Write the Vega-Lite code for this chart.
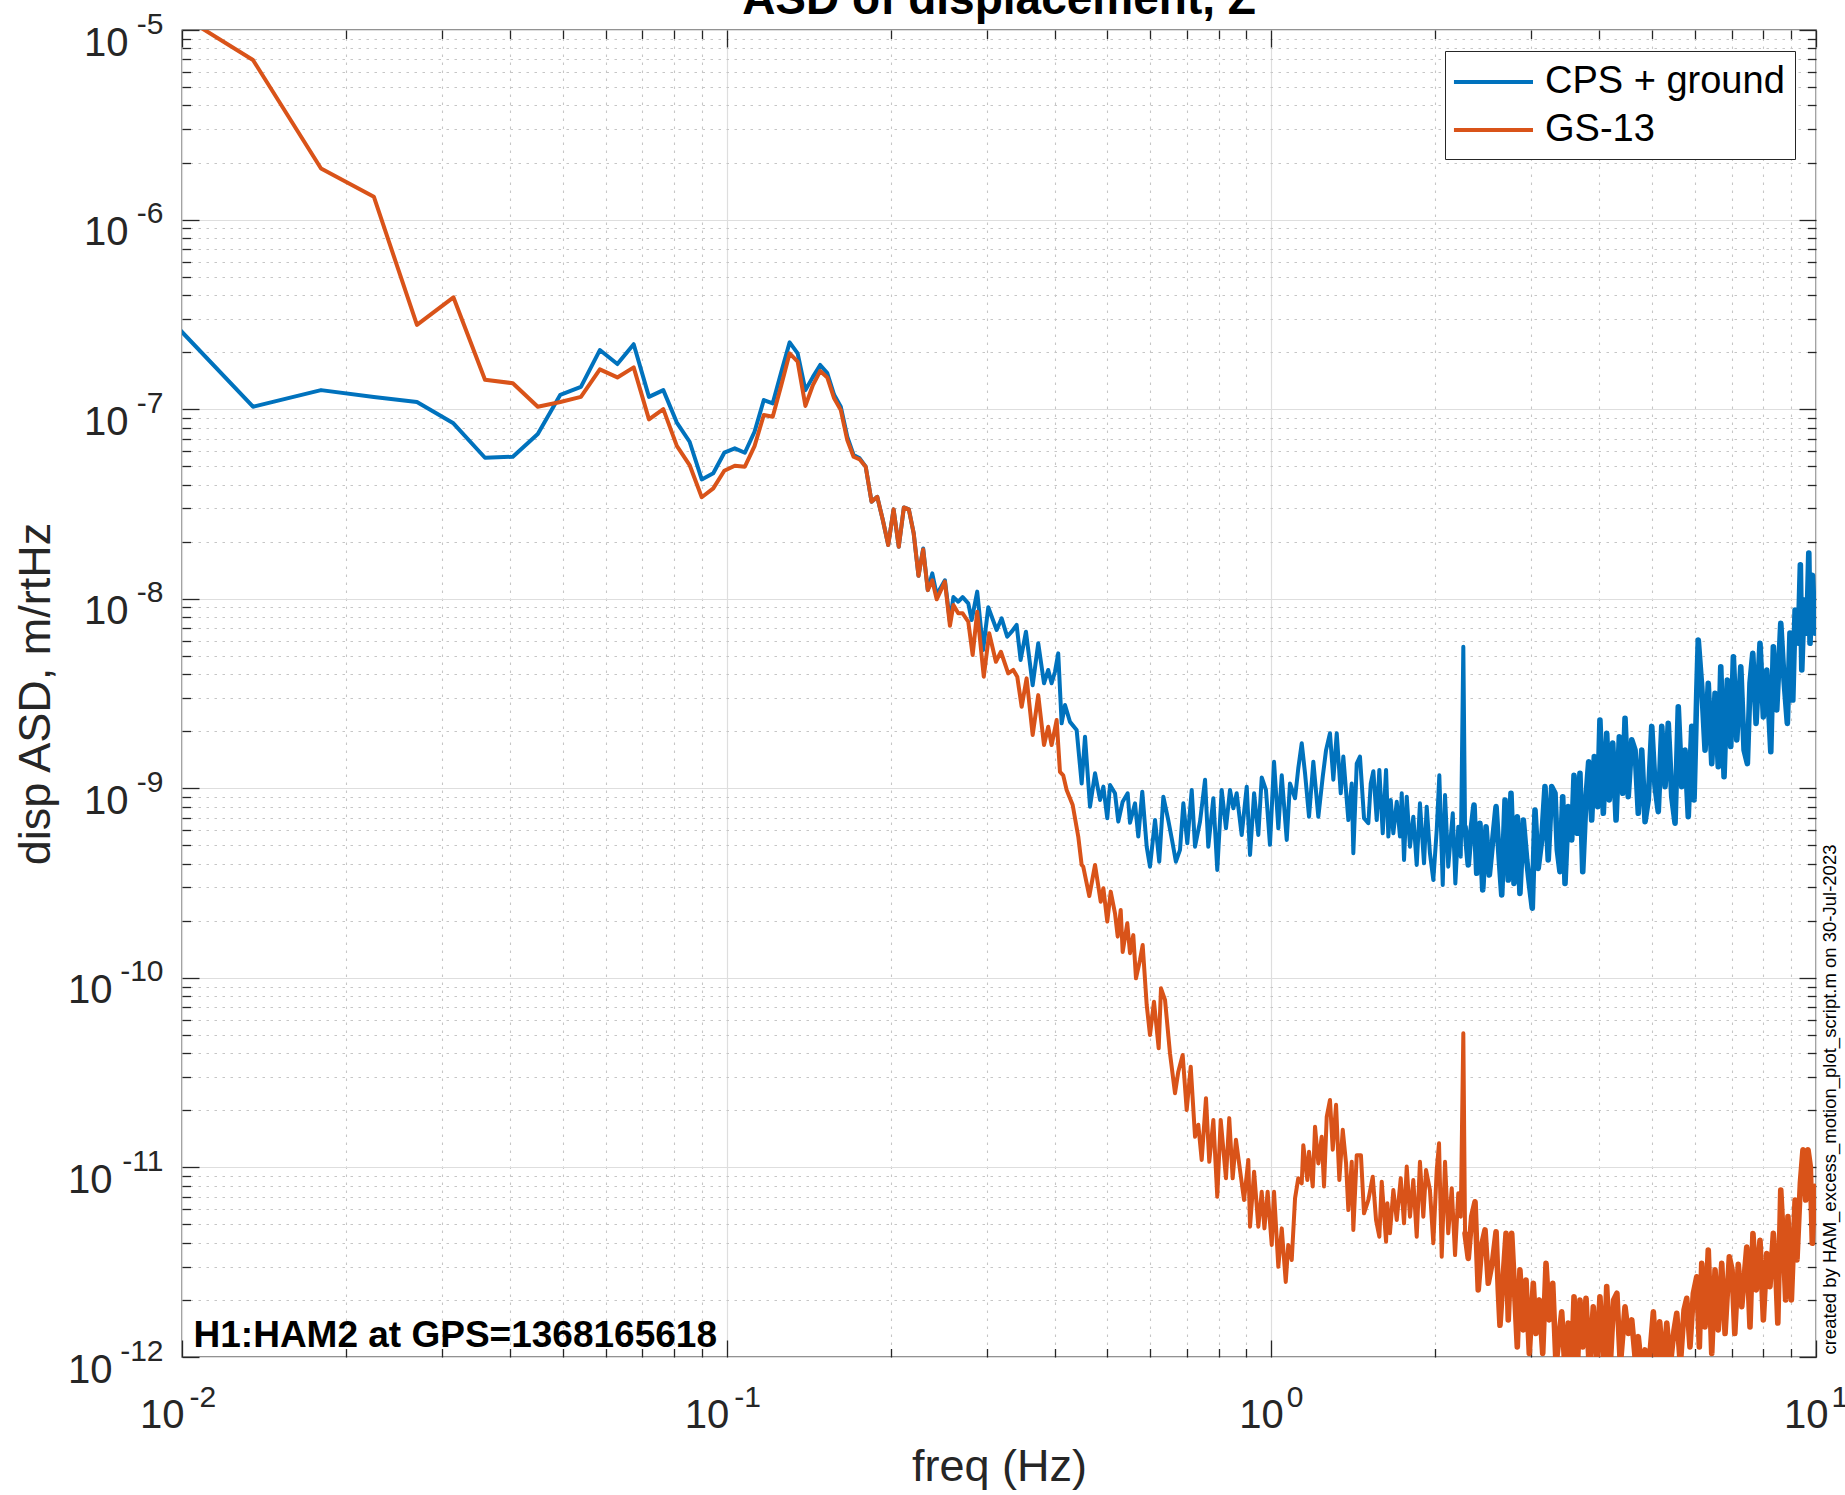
{
"$schema": "https://vega.github.io/schema/vega-lite/v6.json",
"width": 1634, "height": 1327,
"autosize": "none",
"padding": {"left": 182, "top": 30, "right": 29, "bottom": 138},
"background": "white",
"config": {
  "view": {"stroke": "#262626", "strokeWidth": 1.3},
  "axis": {"labelFont": "Liberation Sans", "titleFont": "Liberation Sans", "labelColor": "#262626", "titleColor": "#262626", "tickColor": "#262626", "tickWidth": 1.3, "domain": false, "grid": false, "labelFlush": false, "labelOverlap": false, "labelBound": false, "labelLimit": 0, "titleFontWeight": "normal"},
  "legend": {"title": null, "orient": "top-right", "offset": 21, "padding": 10, "fillColor": "#ffffff", "strokeColor": "#262626", "symbolType": "M-1.16,0H3.0", "symbolSize": 1444, "symbolStrokeWidth": 4, "symbolOpacity": 1, "labelFont": "Liberation Sans", "labelFontSize": 38, "labelColor": "#000000", "labelOffset": 48, "labelLimit": 0, "rowPadding": 8},
  "text": {"font": "Liberation Sans"}
},
"datasets": {
"cps": [
{"f":0.009,"v":3.51e-7},{"f":0.0135,"v":1.03e-7},{"f":0.018,"v":1.26e-7},{"f":0.0225,"v":1.16e-7},{"f":0.027,"v":1.09e-7},{"f":0.0315,"v":8.42e-8},{"f":0.036,"v":5.54e-8},{"f":0.0405,"v":5.61e-8},{"f":0.045,"v":7.39e-8},{"f":0.0495,"v":1.19e-7},{"f":0.054,"v":1.31e-7},{"f":0.0585,"v":2.05e-7},{"f":0.063,"v":1.73e-7},{"f":0.0675,"v":2.2e-7},{"f":0.072,"v":1.16e-7},{"f":0.0765,"v":1.26e-7},{"f":0.081,"v":8.5e-8},{"f":0.0855,"v":6.73e-8},{"f":0.09,"v":4.26e-8},{"f":0.0945,"v":4.59e-8},{"f":0.099,"v":5.89e-8},{"f":0.1035,"v":6.21e-8},{"f":0.108,"v":5.89e-8},{"f":0.1125,"v":7.6e-8},{"f":0.117,"v":1.117e-7},{"f":0.1215,"v":1.073e-7},{"f":0.126,"v":1.575e-7},{"f":0.1305,"v":2.25e-7},{"f":0.135,"v":1.97e-7},{"f":0.1395,"v":1.26e-7},{"f":0.144,"v":1.48e-7},{"f":0.1485,"v":1.71e-7},{"f":0.153,"v":1.55e-7},{"f":0.1575,"v":1.19e-7},{"f":0.162,"v":1.03e-7},{"f":0.1665,"v":7.15e-8},{"f":0.171,"v":5.73e-8},{"f":0.1755,"v":5.5e-8},{"f":0.18,"v":4.97e-8},{"f":0.1845,"v":3.25e-8},{"f":0.189,"v":3.45e-8},{"f":0.1935,"v":2.6e-8},{"f":0.198,"v":1.92e-8},{"f":0.2025,"v":2.96e-8},{"f":0.207,"v":1.88e-8},{"f":0.2115,"v":3.03e-8},{"f":0.216,"v":2.96e-8},{"f":0.2205,"v":2.21e-8},{"f":0.225,"v":1.32e-8},{"f":0.2295,"v":1.84e-8},{"f":0.234,"v":1.11e-8},{"f":0.2385,"v":1.36e-8},{"f":0.243,"v":1.05e-8},{"f":0.2516,"v":1.25e-8},{"f":0.257,"v":7.56e-9},{"f":0.2608,"v":1.02e-8},{"f":0.2662,"v":9.64e-9},{"f":0.2712,"v":1.02e-8},{"f":0.2777,"v":9.46e-9},{"f":0.2817,"v":7.72e-9},{"f":0.2884,"v":1.09e-8},{"f":0.2957,"v":5.36e-9},{"f":0.3022,"v":9.01e-9},{"f":0.3131,"v":6.84e-9},{"f":0.3198,"v":7.88e-9},{"f":0.3274,"v":6.3e-9},{"f":0.3336,"v":6.7e-9},{"f":0.3407,"v":7.27e-9},{"f":0.3465,"v":4.75e-9},{"f":0.3544,"v":6.7e-9},{"f":0.3646,"v":3.5e-9},{"f":0.3733,"v":5.82e-9},{"f":0.3825,"v":3.58e-9},{"f":0.3894,"v":4.21e-9},{"f":0.395,"v":3.58e-9},{"f":0.4007,"v":4.12e-9},{"f":0.4062,"v":5.15e-9},{"f":0.4121,"v":2.2e-9},{"f":0.418,"v":2.75e-9},{"f":0.4269,"v":2.24e-9},{"f":0.4391,"v":2.03e-9},{"f":0.4485,"v":1.06e-9},{"f":0.4549,"v":1.87e-9},{"f":0.4646,"v":8.0e-10},{"f":0.4746,"v":1.2e-9},{"f":0.4847,"v":8.68e-10},{"f":0.4916,"v":1.02e-9},{"f":0.4998,"v":6.95e-10},{"f":0.5056,"v":1.04e-9},{"f":0.5164,"v":9.41e-10},{"f":0.5236,"v":6.67e-10},{"f":0.5334,"v":8.5e-10},{"f":0.5448,"v":9.41e-10},{"f":0.5502,"v":6.58e-10},{"f":0.562,"v":8.33e-10},{"f":0.5698,"v":5.56e-10},{"f":0.5795,"v":9.59e-10},{"f":0.5904,"v":4.92e-10},{"f":0.5987,"v":3.86e-10},{"f":0.6116,"v":6.8e-10},{"f":0.6226,"v":4.1e-10},{"f":0.6335,"v":9.03e-10},{"f":0.6468,"v":6.8e-10},{"f":0.6571,"v":5.34e-10},{"f":0.668,"v":4.1e-10},{"f":0.6797,"v":4.73e-10},{"f":0.6894,"v":8.33e-10},{"f":0.701,"v":5.13e-10},{"f":0.7142,"v":9.8e-10},{"f":0.7243,"v":4.92e-10},{"f":0.7397,"v":6.67e-10},{"f":0.7556,"v":1.11e-9},{"f":0.766,"v":4.92e-10},{"f":0.7826,"v":8.86e-10},{"f":0.7957,"v":3.71e-10},{"f":0.8107,"v":9.8e-10},{"f":0.8255,"v":6.15e-10},{"f":0.8396,"v":9.8e-10},{"f":0.8518,"v":7.84e-10},{"f":0.8637,"v":9.41e-10},{"f":0.8822,"v":5.67e-10},{"f":0.9012,"v":1.02e-9},{"f":0.9139,"v":4.45e-10},{"f":0.9297,"v":9.41e-10},{"f":0.9465,"v":5.67e-10},{"f":0.9602,"v":1.14e-9},{"f":0.9775,"v":9.8e-10},{"f":0.9942,"v":5.03e-10},{"f":1.0115,"v":1.38e-9},{"f":1.03,"v":6.15e-10},{"f":1.045,"v":1.17e-9},{"f":1.0673,"v":5.34e-10},{"f":1.082,"v":1.06e-9},{"f":1.1054,"v":8.86e-10},{"f":1.1205,"v":1.27e-9},{"f":1.1371,"v":1.73e-9},{"f":1.1531,"v":1.2e-9},{"f":1.1728,"v":7.08e-10},{"f":1.1943,"v":1.38e-9},{"f":1.2198,"v":7.08e-10},{"f":1.2427,"v":1.15e-9},{"f":1.2603,"v":1.59e-9},{"f":1.2814,"v":1.95e-9},{"f":1.2997,"v":1.11e-9},{"f":1.3185,"v":1.95e-9},{"f":1.3411,"v":9.41e-10},{"f":1.3557,"v":1.47e-9},{"f":1.3848,"v":6.8e-10},{"f":1.4048,"v":1.06e-9},{"f":1.4143,"v":4.54e-10},{"f":1.4348,"v":1.35e-9},{"f":1.4546,"v":1.47e-9},{"f":1.4797,"v":6.95e-10},{"f":1.5069,"v":6.54e-10},{"f":1.5224,"v":1.06e-9},{"f":1.5392,"v":1.23e-9},{"f":1.5615,"v":6.8e-10},{"f":1.5787,"v":1.25e-9},{"f":1.6015,"v":5.79e-10},{"f":1.6242,"v":1.25e-9},{"f":1.64,"v":5.56e-10},{"f":1.6567,"v":8.68e-10},{"f":1.675,"v":5.79e-10},{"f":1.6993,"v":8.5e-10},{"f":1.7227,"v":5.56e-10},{"f":1.7354,"v":9.41e-10},{"f":1.7524,"v":4.19e-10},{"f":1.7725,"v":9.03e-10},{"f":1.797,"v":4.92e-10},{"f":1.8226,"v":7.08e-10},{"f":1.849,"v":3.94e-10},{"f":1.8744,"v":8.33e-10},{"f":1.9069,"v":4.02e-10},{"f":1.9287,"v":8.0e-10},{"f":1.9553,"v":4.54e-10},{"f":1.9834,"v":3.28e-10},{"f":2.0122,"v":6.03e-10},{"f":2.0344,"v":1.17e-9},{"f":2.0639,"v":3.09e-10},{"f":2.084,"v":9.22e-10},{"f":2.1125,"v":3.86e-10},{"f":2.1533,"v":7.38e-10},{"f":2.177,"v":3.15e-10},{"f":2.204,"v":6.27e-10},{"f":2.2273,"v":4.36e-10},{"f":2.2516,"v":5.58e-9},{"f":2.268,"v":6.27e-10},{"f":2.299,"v":3.94e-10},{"f":2.3232,"v":5.79e-10},{"f":2.3558,"v":8.16e-10},{"f":2.3828,"v":3.56e-10},{"f":2.4156,"v":6.54e-10},{"f":2.4442,"v":2.91e-10},{"f":2.4787,"v":6.27e-10},{"f":2.5132,"v":3.49e-10},{"f":2.5498,"v":5.34e-10},{"f":2.5858,"v":8.0e-10},{"f":2.6218,"v":4.19e-10},{"f":2.6485,"v":2.74e-10},{"f":2.6858,"v":8.68e-10},{"f":2.7225,"v":3.28e-10},{"f":2.7543,"v":9.41e-10},{"f":2.7895,"v":3.15e-10},{"f":2.8287,"v":7.08e-10},{"f":2.8604,"v":2.79e-10},{"f":2.9015,"v":6.8e-10},{"f":2.9435,"v":4.19e-10},{"f":2.976,"v":3.15e-10},{"f":3.0138,"v":2.33e-10},{"f":3.0485,"v":7.68e-10},{"f":3.09,"v":3.78e-10},{"f":3.136,"v":5.34e-10},{"f":3.18,"v":1.02e-9},{"f":3.2237,"v":4.19e-10},{"f":3.2717,"v":1.02e-9},{"f":3.3177,"v":9.41e-10},{"f":3.35,"v":4.73e-10},{"f":3.3876,"v":3.63e-10},{"f":3.4274,"v":9.03e-10},{"f":3.4608,"v":3.15e-10},{"f":3.5082,"v":8.0e-10},{"f":3.5604,"v":5.34e-10},{"f":3.5953,"v":1.17e-9},{"f":3.6458,"v":5.79e-10},{"f":3.6866,"v":1.2e-9},{"f":3.73,"v":3.63e-10},{"f":3.7827,"v":9.03e-10},{"f":3.825,"v":1.38e-9},{"f":3.874,"v":6.8e-10},{"f":3.917,"v":1.47e-9},{"f":3.974,"v":8.0e-10},{"f":4.0115,"v":2.29e-9},{"f":4.069,"v":7.38e-10},{"f":4.128,"v":1.95e-9},{"f":4.1735,"v":8.68e-10},{"f":4.2346,"v":1.73e-9},{"f":4.2944,"v":6.8e-10},{"f":4.3543,"v":1.87e-9},{"f":4.4173,"v":9.41e-10},{"f":4.4604,"v":2.34e-9},{"f":4.5214,"v":9.03e-10},{"f":4.589,"v":1.8e-9},{"f":4.654,"v":1.59e-9},{"f":4.7175,"v":7.38e-10},{"f":4.787,"v":1.59e-9},{"f":4.8546,"v":6.67e-10},{"f":4.921,"v":8.68e-10},{"f":4.994,"v":2.12e-9},{"f":5.064,"v":1.02e-9},{"f":5.1335,"v":7.53e-10},{"f":5.2095,"v":2.12e-9},{"f":5.283,"v":1.02e-9},{"f":5.355,"v":2.2e-9},{"f":5.4344,"v":9.03e-10},{"f":5.511,"v":6.54e-10},{"f":5.5864,"v":2.69e-9},{"f":5.669,"v":1.02e-9},{"f":5.749,"v":1.59e-9},{"f":5.8275,"v":7.08e-10},{"f":5.914,"v":2.12e-9},{"f":5.972,"v":8.68e-10},{"f":6.04,"v":3.17e-9},{"f":6.079,"v":6.06e-9},{"f":6.169,"v":3.43e-9},{"f":6.256,"v":1.59e-9},{"f":6.3416,"v":3.58e-9},{"f":6.4356,"v":1.35e-9},{"f":6.526,"v":3.17e-9},{"f":6.6155,"v":1.3e-9},{"f":6.6855,"v":4.38e-9},{"f":6.779,"v":1.15e-9},{"f":6.874,"v":3.72e-9},{"f":6.974,"v":1.66e-9},{"f":7.0516,"v":4.94e-9},{"f":7.1538,"v":1.8e-9},{"f":7.276,"v":4.38e-9},{"f":7.378,"v":1.59e-9},{"f":7.4815,"v":1.35e-9},{"f":7.565,"v":3.58e-9},{"f":7.654,"v":5.15e-9},{"f":7.762,"v":2.2e-9},{"f":7.892,"v":5.82e-9},{"f":8.005,"v":2.38e-9},{"f":8.121,"v":4.21e-9},{"f":8.26,"v":1.56e-9},{"f":8.35,"v":5.58e-9},{"f":8.471,"v":2.59e-9},{"f":8.616,"v":7.42e-9},{"f":8.736,"v":3.72e-9},{"f":8.859,"v":2.2e-9},{"f":8.958,"v":6.58e-9},{"f":9.066,"v":2.92e-9},{"f":9.154,"v":8.72e-9},{"f":9.279,"v":5.82e-9},{"f":9.36,"v":1.51e-8},{"f":9.417,"v":4.21e-9},{"f":9.509,"v":9.84e-9},{"f":9.618,"v":6.58e-9},{"f":9.7,"v":1.74e-8},{"f":9.75,"v":5.82e-9},{"f":9.85,"v":1.33e-8},{"f":9.96,"v":6.58e-9},{"f":10.0,"v":8.0e-9}
],
"gs": [
{"f":0.009,"v":1.43e-5},{"f":0.0135,"v":6.95e-6},{"f":0.018,"v":1.86e-6},{"f":0.0225,"v":1.32e-6},{"f":0.027,"v":2.78e-7},{"f":0.0315,"v":3.89e-7},{"f":0.036,"v":1.43e-7},{"f":0.0405,"v":1.37e-7},{"f":0.045,"v":1.03e-7},{"f":0.0495,"v":1.09e-7},{"f":0.054,"v":1.16e-7},{"f":0.0585,"v":1.62e-7},{"f":0.063,"v":1.47e-7},{"f":0.0675,"v":1.66e-7},{"f":0.072,"v":8.83e-8},{"f":0.0765,"v":1.0e-7},{"f":0.081,"v":6.4e-8},{"f":0.0855,"v":5.07e-8},{"f":0.09,"v":3.43e-8},{"f":0.0945,"v":3.82e-8},{"f":0.099,"v":4.73e-8},{"f":0.1035,"v":5.03e-8},{"f":0.108,"v":4.97e-8},{"f":0.1125,"v":6.38e-8},{"f":0.117,"v":9.31e-8},{"f":0.1215,"v":9.12e-8},{"f":0.126,"v":1.34e-7},{"f":0.1305,"v":1.97e-7},{"f":0.135,"v":1.78e-7},{"f":0.1395,"v":1.04e-7},{"f":0.144,"v":1.34e-7},{"f":0.1485,"v":1.59e-7},{"f":0.153,"v":1.47e-7},{"f":0.1575,"v":1.14e-7},{"f":0.162,"v":9.9e-8},{"f":0.1665,"v":6.87e-8},{"f":0.171,"v":5.61e-8},{"f":0.1755,"v":5.43e-8},{"f":0.18,"v":4.97e-8},{"f":0.1845,"v":3.25e-8},{"f":0.189,"v":3.45e-8},{"f":0.1935,"v":2.6e-8},{"f":0.198,"v":1.92e-8},{"f":0.2025,"v":2.96e-8},{"f":0.207,"v":1.88e-8},{"f":0.2115,"v":3.03e-8},{"f":0.216,"v":2.96e-8},{"f":0.2205,"v":2.21e-8},{"f":0.225,"v":1.32e-8},{"f":0.2295,"v":1.82e-8},{"f":0.234,"v":1.11e-8},{"f":0.2385,"v":1.25e-8},{"f":0.243,"v":9.93e-9},{"f":0.2516,"v":1.23e-8},{"f":0.257,"v":7.2e-9},{"f":0.2608,"v":9.26e-9},{"f":0.2662,"v":8.37e-9},{"f":0.2712,"v":8.37e-9},{"f":0.2777,"v":7.56e-9},{"f":0.2829,"v":5.05e-9},{"f":0.2884,"v":8.54e-9},{"f":0.2965,"v":3.88e-9},{"f":0.3034,"v":6.58e-9},{"f":0.3121,"v":4.65e-9},{"f":0.3188,"v":5.25e-9},{"f":0.3288,"v":4.04e-9},{"f":0.3359,"v":4.21e-9},{"f":0.3416,"v":3.88e-9},{"f":0.348,"v":2.69e-9},{"f":0.3554,"v":3.8e-9},{"f":0.3646,"v":1.91e-9},{"f":0.3733,"v":3.1e-9},{"f":0.3825,"v":1.69e-9},{"f":0.3894,"v":2.11e-9},{"f":0.395,"v":1.69e-9},{"f":0.4035,"v":2.29e-9},{"f":0.4092,"v":1.22e-9},{"f":0.4149,"v":1.17e-9},{"f":0.4209,"v":9.8e-10},{"f":0.4318,"v":8.16e-10},{"f":0.4421,"v":5.56e-10},{"f":0.4485,"v":3.94e-10},{"f":0.4515,"v":3.86e-10},{"f":0.4632,"v":2.7e-10},{"f":0.4746,"v":3.94e-10},{"f":0.4861,"v":2.52e-10},{"f":0.4916,"v":2.97e-10},{"f":0.4998,"v":1.98e-10},{"f":0.5071,"v":2.85e-10},{"f":0.5164,"v":2.19e-10},{"f":0.5223,"v":1.65e-10},{"f":0.529,"v":2.28e-10},{"f":0.5334,"v":1.37e-10},{"f":0.5439,"v":1.94e-10},{"f":0.5502,"v":1.35e-10},{"f":0.5579,"v":1.68e-10},{"f":0.5643,"v":9.95e-11},{"f":0.5739,"v":1.24e-10},{"f":0.5805,"v":1.49e-10},{"f":0.5904,"v":7.21e-11},{"f":0.5987,"v":5.0e-11},{"f":0.6089,"v":7.49e-11},{"f":0.6211,"v":4.25e-11},{"f":0.6272,"v":8.81e-11},{"f":0.638,"v":7.65e-11},{"f":0.6515,"v":4.0e-11},{"f":0.6655,"v":2.46e-11},{"f":0.6748,"v":3.2e-11},{"f":0.6874,"v":3.92e-11},{"f":0.6992,"v":2.01e-11},{"f":0.7112,"v":3.4e-11},{"f":0.7243,"v":1.45e-11},{"f":0.7344,"v":1.68e-11},{"f":0.745,"v":1.095e-11},{"f":0.7586,"v":2.32e-11},{"f":0.7692,"v":1.07e-11},{"f":0.7826,"v":1.78e-11},{"f":0.7957,"v":7.01e-12},{"f":0.8073,"v":1.78e-11},{"f":0.8255,"v":8.76e-12},{"f":0.837,"v":1.82e-11},{"f":0.8492,"v":8.76e-12},{"f":0.8611,"v":1.4e-11},{"f":0.8759,"v":9.69e-12},{"f":0.891,"v":6.73e-12},{"f":0.9073,"v":1.095e-11},{"f":0.9139,"v":4.87e-12},{"f":0.9297,"v":9.49e-12},{"f":0.9465,"v":4.87e-12},{"f":0.9602,"v":7.44e-12},{"f":0.9712,"v":4.77e-12},{"f":0.9845,"v":7.44e-12},{"f":1.0017,"v":3.9e-12},{"f":1.0115,"v":7.44e-12},{"f":1.03,"v":2.99e-12},{"f":1.045,"v":4.77e-12},{"f":1.0628,"v":2.49e-12},{"f":1.0742,"v":3.9e-12},{"f":1.0901,"v":3.25e-12},{"f":1.1054,"v":6.87e-12},{"f":1.1205,"v":8.76e-12},{"f":1.1371,"v":8.25e-12},{"f":1.1448,"v":1.31e-11},{"f":1.1644,"v":8.58e-12},{"f":1.1728,"v":1.21e-11},{"f":1.1913,"v":7.94e-12},{"f":1.2029,"v":1.64e-11},{"f":1.2198,"v":1.05e-11},{"f":1.2374,"v":1.45e-11},{"f":1.2495,"v":7.94e-12},{"f":1.2638,"v":1.85e-11},{"f":1.2814,"v":2.27e-11},{"f":1.2964,"v":1.24e-11},{"f":1.3147,"v":2.14e-11},{"f":1.333,"v":8.58e-12},{"f":1.3524,"v":1.58e-11},{"f":1.3715,"v":1.05e-11},{"f":1.3848,"v":5.96e-12},{"f":1.4048,"v":1.07e-11},{"f":1.4143,"v":4.68e-12},{"f":1.4348,"v":1.16e-11},{"f":1.4605,"v":1.16e-11},{"f":1.4797,"v":5.73e-12},{"f":1.5069,"v":6.73e-12},{"f":1.5353,"v":8.93e-12},{"f":1.557,"v":5.28e-12},{"f":1.5787,"v":4.31e-12},{"f":1.5947,"v":8.41e-12},{"f":1.6242,"v":4.06e-12},{"f":1.633,"v":6.47e-12},{"f":1.651,"v":4.49e-12},{"f":1.675,"v":7.6e-12},{"f":1.6993,"v":5.28e-12},{"f":1.7282,"v":8.76e-12},{"f":1.7524,"v":5.07e-12},{"f":1.7725,"v":1.01e-11},{"f":1.797,"v":5.5e-12},{"f":1.8226,"v":8.58e-12},{"f":1.849,"v":4.31e-12},{"f":1.8744,"v":1.07e-11},{"f":1.9012,"v":5.5e-12},{"f":1.9233,"v":9.69e-12},{"f":1.9553,"v":7.6e-12},{"f":1.9834,"v":3.98e-12},{"f":2.0122,"v":9.69e-12},{"f":2.0318,"v":1.34e-11},{"f":2.0551,"v":3.38e-12},{"f":2.084,"v":1.07e-11},{"f":2.1125,"v":4.49e-12},{"f":2.144,"v":7.76e-12},{"f":2.1742,"v":3.45e-12},{"f":2.204,"v":7.3e-12},{"f":2.2273,"v":5.5e-12},{"f":2.2516,"v":5.1e-11},{"f":2.268,"v":4.49e-12},{"f":2.299,"v":3.31e-12},{"f":2.333,"v":5.5e-12},{"f":2.3658,"v":6.59e-12},{"f":2.398,"v":2.26e-12},{"f":2.4337,"v":3.9e-12},{"f":2.468,"v":4.68e-12},{"f":2.5018,"v":2.45e-12},{"f":2.5498,"v":3.25e-12},{"f":2.5858,"v":4.58e-12},{"f":2.61,"v":2.26e-12},{"f":2.6289,"v":1.47e-12},{"f":2.6599,"v":2.45e-12},{"f":2.6974,"v":4.49e-12},{"f":2.7225,"v":1.57e-12},{"f":2.7625,"v":4.49e-12},{"f":2.8014,"v":2.0e-12},{"f":2.8287,"v":1.13e-12},{"f":2.8604,"v":2.88e-12},{"f":2.9015,"v":1.39e-12},{"f":2.935,"v":2.55e-12},{"f":2.976,"v":1.045e-12},{"f":3.0266,"v":2.45e-12},{"f":3.0617,"v":1.33e-12},{"f":3.1044,"v":2.0e-12},{"f":3.1495,"v":1.045e-12},{"f":3.194,"v":3.12e-12},{"f":3.2384,"v":1.57e-12},{"f":3.2857,"v":2.45e-12},{"f":3.332,"v":9.07e-13},{"f":3.4128,"v":1.73e-12},{"f":3.4608,"v":8.5e-13},{"f":3.5082,"v":1.51e-12},{"f":3.5604,"v":9.07e-13},{"f":3.5953,"v":2.08e-12},{"f":3.6458,"v":8.5e-13},{"f":3.6866,"v":2.0e-12},{"f":3.73,"v":1.13e-12},{"f":3.7827,"v":2.04e-12},{"f":3.8353,"v":8.5e-13},{"f":3.9005,"v":1.84e-12},{"f":3.957,"v":9.07e-13},{"f":4.0115,"v":2.08e-12},{"f":4.081,"v":8.5e-13},{"f":4.128,"v":2.35e-12},{"f":4.191,"v":9.07e-13},{"f":4.2506,"v":2.0e-12},{"f":4.31,"v":2.17e-12},{"f":4.373,"v":9.07e-13},{"f":4.4604,"v":1.84e-12},{"f":4.5214,"v":1.33e-12},{"f":4.589,"v":1.57e-12},{"f":4.654,"v":1.0e-12},{"f":4.7175,"v":1.28e-12},{"f":4.787,"v":8.5e-13},{"f":4.8546,"v":1.09e-12},{"f":4.921,"v":8.0e-13},{"f":5.028,"v":1.73e-12},{"f":5.1006,"v":8.5e-13},{"f":5.1642,"v":1.535e-12},{"f":5.245,"v":8.5e-13},{"f":5.321,"v":1.51e-12},{"f":5.402,"v":9.07e-13},{"f":5.4876,"v":1.39e-12},{"f":5.5506,"v":1.7e-12},{"f":5.635,"v":9.07e-13},{"f":5.7245,"v":1.77e-12},{"f":5.79,"v":2.04e-12},{"f":5.87,"v":1.13e-12},{"f":5.954,"v":2.17e-12},{"f":6.04,"v":2.65e-12},{"f":6.107,"v":1.13e-12},{"f":6.169,"v":3.12e-12},{"f":6.256,"v":1.44e-12},{"f":6.3416,"v":3.67e-12},{"f":6.4356,"v":1.045e-12},{"f":6.526,"v":2.88e-12},{"f":6.6155,"v":1.39e-12},{"f":6.713,"v":3.12e-12},{"f":6.808,"v":1.33e-12},{"f":6.9325,"v":3.38e-12},{"f":7.013,"v":2.88e-12},{"f":7.094,"v":1.33e-12},{"f":7.2,"v":3.08e-12},{"f":7.306,"v":1.84e-12},{"f":7.409,"v":2.98e-12},{"f":7.4625,"v":3.8e-12},{"f":7.565,"v":1.44e-12},{"f":7.66,"v":4.48e-12},{"f":7.771,"v":2.26e-12},{"f":7.892,"v":4.13e-12},{"f":8.005,"v":1.57e-12},{"f":8.121,"v":3.51e-12},{"f":8.231,"v":2.35e-12},{"f":8.35,"v":4.49e-12},{"f":8.432,"v":2.98e-12},{"f":8.509,"v":1.51e-12},{"f":8.616,"v":7.6e-12},{"f":8.696,"v":4.49e-12},{"f":8.796,"v":2.0e-12},{"f":8.882,"v":5.5e-12},{"f":9.0117,"v":2.0e-12},{"f":9.154,"v":6.73e-12},{"f":9.228,"v":3.25e-12},{"f":9.36,"v":8.25e-12},{"f":9.465,"v":1.24e-11},{"f":9.574,"v":6.73e-12},{"f":9.667,"v":1.24e-11},{"f":9.763,"v":1.01e-11},{"f":9.845,"v":3.98e-12},{"f":9.942,"v":7.94e-12},{"f":10.0,"v":6.5e-12}
],
"anchor": [{"f": 1, "v": 1e-8}]
},
"layer": [
{
  "data": {"name": "cps"},
  "transform": [{"filter": "datum.f <= 2.268"}],
  "mark": {"type": "line", "clip": true, "strokeWidth": 4, "strokeJoin": "round", "strokeCap": "round"},
  "encoding": {
    "x": {"field": "f", "type": "quantitative", "scale": {"type": "log", "domain": [0.01, 10], "nice": false},
      "axis": {"orient": "bottom", "values": [0.01, 0.1, 1, 10], "grid": true, "gridColor": "#dedede", "gridWidth": 1.2, "ticks": true, "tickSize": -17, "labels": false, "title": null}},
    "y": {"field": "v", "type": "quantitative", "scale": {"type": "log", "domain": [1e-12, 1e-5], "nice": false},
      "axis": {"orient": "left", "values": [1e-12, 1e-11, 1e-10, 1e-9, 1e-8, 1e-7, 1e-6, 1e-5], "grid": true, "gridColor": "#dedede", "gridWidth": 1.2, "ticks": true, "tickSize": -17, "labels": false, "title": null}},
    "color": {"datum": "CPS + ground", "type": "nominal", "scale": {"domain": ["CPS + ground", "GS-13"], "range": ["#0072BD", "#D95319"]}}
  }
},
{
  "data": {"name": "cps"},
  "transform": [{"filter": "datum.f >= 2.268"}],
  "mark": {"type": "line", "clip": true, "strokeWidth": 5.6, "strokeJoin": "round", "strokeCap": "round"},
  "encoding": {
    "x": {"field": "f", "type": "quantitative", "scale": {"type": "log", "domain": [0.01, 10], "nice": false}, "axis": null},
    "y": {"field": "v", "type": "quantitative", "scale": {"type": "log", "domain": [1e-12, 1e-5], "nice": false}, "axis": null},
    "color": {"datum": "CPS + ground", "type": "nominal", "scale": {"domain": ["CPS + ground", "GS-13"], "range": ["#0072BD", "#D95319"]}}
  }
},
{
  "data": {"name": "gs"},
  "transform": [{"filter": "datum.f <= 2.268"}],
  "mark": {"type": "line", "clip": true, "strokeWidth": 4, "strokeJoin": "round", "strokeCap": "round"},
  "encoding": {
    "x": {"field": "f", "type": "quantitative", "scale": {"type": "log", "domain": [0.01, 10], "nice": false},
      "axis": {"orient": "bottom", "values": [0.02,0.03,0.04,0.05,0.06,0.07,0.08,0.09,0.2,0.3,0.4,0.5,0.6,0.7,0.8,0.9,2,3,4,5,6,7,8,9], "grid": true, "gridColor": "#c6c6c6", "gridDash": [2.5, 5.5], "gridWidth": 1.1, "ticks": true, "tickSize": -8.5, "labels": false, "title": null}},
    "y": {"field": "v", "type": "quantitative", "scale": {"type": "log", "domain": [1e-12, 1e-5], "nice": false},
      "axis": {"orient": "left", "values": [2e-12,3e-12,4e-12,5e-12,6e-12,7e-12,8e-12,9e-12,2e-11,3e-11,4e-11,5e-11,6e-11,7e-11,8e-11,9e-11,2e-10,3e-10,4e-10,5e-10,6e-10,7e-10,8e-10,9e-10,2e-9,3e-9,4e-9,5e-9,6e-9,7e-9,8e-9,9e-9,2e-8,3e-8,4e-8,5e-8,6e-8,7e-8,8e-8,9e-8,2e-7,3e-7,4e-7,5e-7,6e-7,7e-7,8e-7,9e-7,2e-6,3e-6,4e-6,5e-6,6e-6,7e-6,8e-6,9e-6], "grid": true, "gridColor": "#c6c6c6", "gridDash": [2.5, 5.5], "gridWidth": 1.1, "ticks": true, "tickSize": -8.5, "labels": false, "title": null}},
    "color": {"datum": "GS-13", "type": "nominal", "scale": {"domain": ["CPS + ground", "GS-13"], "range": ["#0072BD", "#D95319"]}}
  }
},
{
  "data": {"name": "gs"},
  "transform": [{"filter": "datum.f >= 2.268"}],
  "mark": {"type": "line", "clip": true, "strokeWidth": 5.6, "strokeJoin": "round", "strokeCap": "round"},
  "encoding": {
    "x": {"field": "f", "type": "quantitative", "scale": {"type": "log", "domain": [0.01, 10], "nice": false}, "axis": null},
    "y": {"field": "v", "type": "quantitative", "scale": {"type": "log", "domain": [1e-12, 1e-5], "nice": false}, "axis": null},
    "color": {"datum": "GS-13", "type": "nominal", "scale": {"domain": ["CPS + ground", "GS-13"], "range": ["#0072BD", "#D95319"]}}
  }
},
{
  "data": {"name": "anchor"},
  "mark": {"type": "point", "opacity": 0},
  "encoding": {
    "x": {"field": "f", "type": "quantitative", "scale": {"type": "log", "domain": [0.01, 10], "nice": false},
      "axis": {"orient": "bottom", "values": [0.01, 0.1], "labelExpr": "'10'", "labelFontSize": 40, "labelAlign": "right", "labelBaseline": "alphabetic", "labelPadding": 70, "labelOffset": 2, "ticks": false, "tickSize": 0,
        "title": "freq (Hz)", "titleFontSize": 45, "titleBaseline": "alphabetic", "titleX": 817, "titleY": 123}},
    "y": {"field": "v", "type": "quantitative", "scale": {"type": "log", "domain": [1e-12, 1e-5], "nice": false},
      "axis": {"orient": "left", "values": [1e-9, 1e-8, 1e-7, 1e-6, 1e-5], "labelExpr": "'10'", "labelFontSize": 40, "labelAlign": "right", "labelBaseline": "alphabetic", "labelPadding": 54, "labelOffset": 25, "ticks": false, "tickSize": 0,
        "title": "disp ASD, m/rtHz", "titleFontSize": 45, "titleBaseline": "alphabetic", "titleAngle": 270, "titleX": -133, "titleY": 663.5}}
  }
},
{
  "data": {"name": "anchor"},
  "mark": {"type": "point", "opacity": 0},
  "encoding": {
    "x": {"field": "f", "type": "quantitative", "scale": {"type": "log", "domain": [0.01, 10], "nice": false},
      "axis": {"orient": "bottom", "values": [1, 10], "labelExpr": "'10'", "labelFontSize": 40, "labelAlign": "right", "labelBaseline": "alphabetic", "labelPadding": 70, "labelOffset": 12, "ticks": false, "tickSize": 0, "title": null}},
    "y": {"field": "v", "type": "quantitative", "scale": {"type": "log", "domain": [1e-12, 1e-5], "nice": false},
      "axis": {"orient": "left", "values": [1e-12, 1e-11, 1e-10], "labelExpr": "'10'", "labelFontSize": 40, "labelAlign": "right", "labelBaseline": "alphabetic", "labelPadding": 70, "labelOffset": 25, "ticks": false, "tickSize": 0, "title": null}}
  }
},
{
  "data": {"name": "anchor"},
  "mark": {"type": "point", "opacity": 0},
  "encoding": {
    "x": {"field": "f", "type": "quantitative", "scale": {"type": "log", "domain": [0.01, 10], "nice": false},
      "axis": {"orient": "bottom", "values": [0.01, 0.1], "labelExpr": "datum.value < 0.05 ? '-2' : '-1'", "labelFontSize": 30, "labelAlign": "left", "labelBaseline": "alphabetic", "labelPadding": 49, "labelOffset": 7, "ticks": false, "tickSize": 0, "title": null}},
    "y": {"field": "v", "type": "quantitative", "scale": {"type": "log", "domain": [1e-12, 1e-5], "nice": false},
      "axis": {"orient": "left", "values": [1e-12, 1e-11, 1e-10, 1e-9, 1e-8, 1e-7, 1e-6, 1e-5], "labelExpr": "'-' + format(round(-log(datum.value)/LN10), 'd')", "labelFontSize": 30, "labelAlign": "right", "labelBaseline": "alphabetic", "labelPadding": 19, "labelOffset": 3, "ticks": false, "tickSize": 0, "title": null}}
  }
},
{
  "data": {"name": "anchor"},
  "mark": {"type": "point", "opacity": 0},
  "encoding": {
    "x": {"field": "f", "type": "quantitative", "scale": {"type": "log", "domain": [0.01, 10], "nice": false},
      "axis": {"orient": "bottom", "values": [1, 10], "labelExpr": "datum.value < 5 ? '0' : '1'", "labelFontSize": 30, "labelAlign": "left", "labelBaseline": "alphabetic", "labelPadding": 49, "labelOffset": 15, "ticks": false, "tickSize": 0, "title": null}},
    "y": {"field": "v", "type": "quantitative", "scale": {"type": "log", "domain": [1e-12, 1e-5], "nice": false}, "axis": null}
  }
},
{
  "data": {"name": "anchor"},
  "mark": {"type": "point", "opacity": 0},
  "encoding": {
    "x": {"field": "f", "type": "quantitative", "scale": {"type": "log", "domain": [0.01, 10], "nice": false},
      "axis": {"orient": "top", "values": [0.01, 0.1, 1, 10], "ticks": true, "tickSize": -17, "labels": false, "title": null}},
    "y": {"field": "v", "type": "quantitative", "scale": {"type": "log", "domain": [1e-12, 1e-5], "nice": false},
      "axis": {"orient": "right", "values": [1e-12, 1e-11, 1e-10, 1e-9, 1e-8, 1e-7, 1e-6, 1e-5], "ticks": true, "tickSize": -17, "labels": false, "title": null}}
  }
},
{
  "data": {"name": "anchor"},
  "mark": {"type": "point", "opacity": 0},
  "encoding": {
    "x": {"field": "f", "type": "quantitative", "scale": {"type": "log", "domain": [0.01, 10], "nice": false},
      "axis": {"orient": "top", "values": [0.02,0.03,0.04,0.05,0.06,0.07,0.08,0.09,0.2,0.3,0.4,0.5,0.6,0.7,0.8,0.9,2,3,4,5,6,7,8,9], "ticks": true, "tickSize": -8.5, "labels": false, "title": null}},
    "y": {"field": "v", "type": "quantitative", "scale": {"type": "log", "domain": [1e-12, 1e-5], "nice": false},
      "axis": {"orient": "right", "values": [2e-12,3e-12,4e-12,5e-12,6e-12,7e-12,8e-12,9e-12,2e-11,3e-11,4e-11,5e-11,6e-11,7e-11,8e-11,9e-11,2e-10,3e-10,4e-10,5e-10,6e-10,7e-10,8e-10,9e-10,2e-9,3e-9,4e-9,5e-9,6e-9,7e-9,8e-9,9e-9,2e-8,3e-8,4e-8,5e-8,6e-8,7e-8,8e-8,9e-8,2e-7,3e-7,4e-7,5e-7,6e-7,7e-7,8e-7,9e-7,2e-6,3e-6,4e-6,5e-6,6e-6,7e-6,8e-6,9e-6], "ticks": true, "tickSize": -8.5, "labels": false, "title": null}}
  }
},
{
  "data": {"name": "anchor"},
  "mark": {"type": "text", "font": "Liberation Sans", "fontSize": 46, "fontWeight": "bold", "color": "#000000", "align": "center", "baseline": "alphabetic"},
  "encoding": {
    "x": {"datum": 0.31623, "type": "quantitative", "scale": {"type": "log", "domain": [0.01, 10], "nice": false}, "axis": null},
    "y": {"datum": 1.2146e-5, "type": "quantitative", "scale": {"type": "log", "domain": [1e-12, 1e-5], "nice": false}, "axis": null},
    "text": {"value": "ASD of displacement, Z"}
  }
},
{
  "data": {"name": "anchor"},
  "mark": {"type": "text", "font": "Liberation Sans", "fontSize": 37, "fontWeight": "bold", "color": "#000000", "align": "left", "baseline": "alphabetic", "dy": -10},
  "encoding": {
    "x": {"datum": 0.0105, "type": "quantitative", "scale": {"type": "log", "domain": [0.01, 10], "nice": false}, "axis": null},
    "y": {"datum": 1e-12, "type": "quantitative", "scale": {"type": "log", "domain": [1e-12, 1e-5], "nice": false}, "axis": null},
    "text": {"value": "H1:HAM2 at GPS=1368165618"}
  }
},
{
  "data": {"name": "anchor"},
  "mark": {"type": "text", "font": "Liberation Sans", "fontSize": 18.5, "color": "#000000", "align": "left", "baseline": "middle", "angle": 270},
  "encoding": {
    "x": {"datum": 10.63, "type": "quantitative", "scale": {"type": "log", "domain": [0.01, 10], "nice": false}, "axis": null},
    "y": {"datum": 1.03e-12, "type": "quantitative", "scale": {"type": "log", "domain": [1e-12, 1e-5], "nice": false}, "axis": null},
    "text": {"value": "created by HAM_excess_motion_plot_script.m on 30-Jul-2023"}
  }
}
],
"resolve": {"axis": {"x": "independent", "y": "independent"}}
}
